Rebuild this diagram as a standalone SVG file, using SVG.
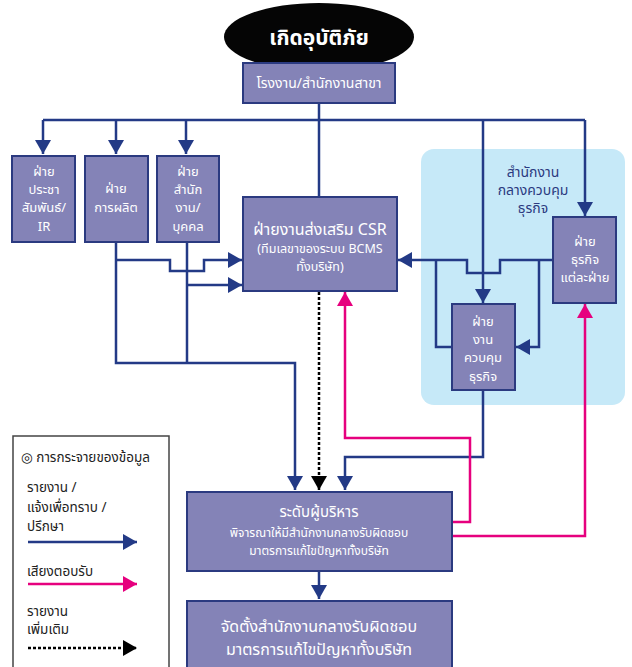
<svg xmlns="http://www.w3.org/2000/svg" width="632" height="667" viewBox="0 0 632 667">
<defs>
<style>
.box{fill:#8483b7;stroke:#2b3a80;stroke-width:2}
.t{font-family:"Noto Sans Thai","Noto Sans","DejaVu Sans",sans-serif;fill:#fff;text-anchor:middle;dominant-baseline:central}
.s{font-size:13px}
.b{fill:none;stroke:#233a86;stroke-width:2.5}
.p{fill:none;stroke:#e6007e;stroke-width:2.5}
.d{fill:none;stroke:#000;stroke-width:2.5;stroke-dasharray:3 2}
.lg{font-family:"Noto Sans Thai","Noto Sans","DejaVu Sans",sans-serif;fill:#222;font-size:13.5px;dominant-baseline:central}
.pt{font-family:"Noto Sans Thai","Noto Sans","DejaVu Sans",sans-serif;font-size:14px;fill:#2b3a80;text-anchor:middle;dominant-baseline:central}
</style>
<marker id="ab" markerUnits="userSpaceOnUse" markerWidth="16" markerHeight="16" refX="14" refY="8" orient="auto"><path d="M0,0 L14,8 L0,16 z" fill="#233a86"/></marker>
<marker id="ap" markerUnits="userSpaceOnUse" markerWidth="16" markerHeight="16" refX="14" refY="8" orient="auto"><path d="M0,0 L14,8 L0,16 z" fill="#e6007e"/></marker>
<marker id="ak" markerUnits="userSpaceOnUse" markerWidth="16" markerHeight="16" refX="14" refY="8" orient="auto"><path d="M0,0 L14,8 L0,16 z" fill="#000"/></marker>
</defs>
<rect width="632" height="667" fill="#fff"/>
<g id="panel">
<rect x="421" y="149" width="204" height="256" rx="13" fill="#c6e9f8"/>
<text class="pt" x="533" y="172">สำนักงาน</text>
<text class="pt" x="533" y="190">กลางควบคุม</text>
<text class="pt" x="533" y="208">ธุรกิจ</text>
</g>
<g id="connectors">
<path class="b" d="M319,102 V196"/>
<path class="b" d="M43,120 H585"/>
<path class="b" d="M43,120 V154" marker-end="url(#ab)"/>
<path class="b" d="M116,120 V154" marker-end="url(#ab)"/>
<path class="b" d="M186,120 V154" marker-end="url(#ab)"/>
<path class="b" d="M483,120 V303" marker-end="url(#ab)"/>
<path class="b" d="M585,120 V216" marker-end="url(#ab)"/>
<path class="b" d="M116,242 V363 H295 V490" marker-end="url(#ab)"/>
<path class="b" d="M187,242 V363"/>
<path class="b" d="M116,260 H170 V271 H204 V260 H242" marker-end="url(#ab)"/>
<path class="b" d="M187,285 H242" marker-end="url(#ab)"/>
<path class="b" d="M553,260 H500 V273 H467 V260 H398" marker-end="url(#ab)"/>
<path class="b" d="M452,347 H436 V260"/>
<path class="b" d="M539,260 V347 H516" marker-end="url(#ab)"/>
<path class="b" d="M483,390 V457 H345 V490" marker-end="url(#ab)"/>
<path class="d" d="M319,292 V490" marker-end="url(#ak)"/>
<path class="p" d="M452,522 H470 V438 H345 V292" marker-end="url(#ap)"/>
<path class="p" d="M452,536 H585 V304" marker-end="url(#ap)"/>
<path class="b" d="M319,571 V599" marker-end="url(#ab)"/>
</g>
<g id="incident">
<ellipse cx="319" cy="37" rx="95" ry="34" fill="#050505"/>
<text class="t" x="319" y="38" style="font-size:21px;font-weight:bold">เกิดอุบัติภัย</text>
</g>
<g id="branch">
<rect class="box" x="243" y="63" width="152" height="40"/>
<text class="t" x="319" y="83" style="font-size:14px">โรงงาน/สำนักงานสาขา</text>
</g>
<g id="pr">
<rect class="box" x="12" y="156" width="63" height="86"/>
<text class="t s" x="44" y="172">ฝ่าย</text>
<text class="t s" x="44" y="190">ประชา</text>
<text class="t s" x="44" y="208">สัมพันธ์/</text>
<text class="t s" x="44" y="227">IR</text>
</g>
<g id="production">
<rect class="box" x="85" y="156" width="63" height="86"/>
<text class="t s" x="116" y="189">ฝ่าย</text>
<text class="t s" x="116" y="208">การผลิต</text>
</g>
<g id="hr">
<rect class="box" x="157" y="156" width="62" height="86"/>
<text class="t s" x="188" y="172">ฝ่าย</text>
<text class="t s" x="188" y="190">สำนัก</text>
<text class="t s" x="188" y="208">งาน/</text>
<text class="t s" x="188" y="227">บุคคล</text>
</g>
<g id="csr">
<rect class="box" x="243" y="197" width="154" height="94"/>
<text class="t" x="320" y="230" style="font-size:16px">ฝ่ายงานส่งเสริม CSR</text>
<text class="t" x="320" y="249" style="font-size:12.5px">(ทีมเลขาของระบบ BCMS</text>
<text class="t" x="320" y="267" style="font-size:12.5px">ทั้งบริษัท)</text>
</g>
<g id="business">
<rect class="box" x="553" y="217" width="63" height="86"/>
<text class="t s" x="585" y="242">ฝ่าย</text>
<text class="t s" x="585" y="260">ธุรกิจ</text>
<text class="t s" x="585" y="278">แต่ละฝ่าย</text>
</g>
<g id="control">
<rect class="box" x="452" y="304" width="63" height="86"/>
<text class="t s" x="483" y="322">ฝ่าย</text>
<text class="t s" x="483" y="340">งาน</text>
<text class="t s" x="483" y="358">ควบคุม</text>
<text class="t s" x="483" y="377">ธุรกิจ</text>
</g>
<g id="executive">
<rect class="box" x="187" y="492" width="265" height="79"/>
<text class="t" x="319" y="512" style="font-size:15px">ระดับผู้บริหาร</text>
<text class="t" x="319" y="533" style="font-size:12px">พิจารณาให้มีสำนักงานกลางรับผิดชอบ</text>
<text class="t" x="319" y="551" style="font-size:12px">มาตรการแก้ไขปัญหาทั้งบริษัท</text>
</g>
<g id="establish">
<rect class="box" x="187" y="601" width="265" height="70"/>
<text class="t" x="319" y="627" style="font-size:16px">จัดตั้งสำนักงานกลางรับผิดชอบ</text>
<text class="t" x="319" y="650" style="font-size:16px">มาตรการแก้ไขปัญหาทั้งบริษัท</text>
</g>
<g id="legend">
<rect x="13" y="436" width="156" height="240" fill="#fff" stroke="#444" stroke-width="1.5"/>
<text class="lg" x="21" y="458">◎ การกระจายของข้อมูล</text>
<text class="lg" x="27" y="488">รายงาน /</text>
<text class="lg" x="27" y="508">แจ้งเพื่อทราบ /</text>
<text class="lg" x="27" y="527">ปรึกษา</text>
<path class="b" d="M28,542 H137" marker-end="url(#ab)"/>
<text class="lg" x="27" y="572">เสียงตอบรับ</text>
<path class="p" d="M28,584 H137" marker-end="url(#ap)"/>
<text class="lg" x="27" y="612">รายงาน</text>
<text class="lg" x="27" y="630">เพิ่มเติม</text>
<path class="d" d="M28,648 H137" marker-end="url(#ak)"/>
</g>
</svg>
